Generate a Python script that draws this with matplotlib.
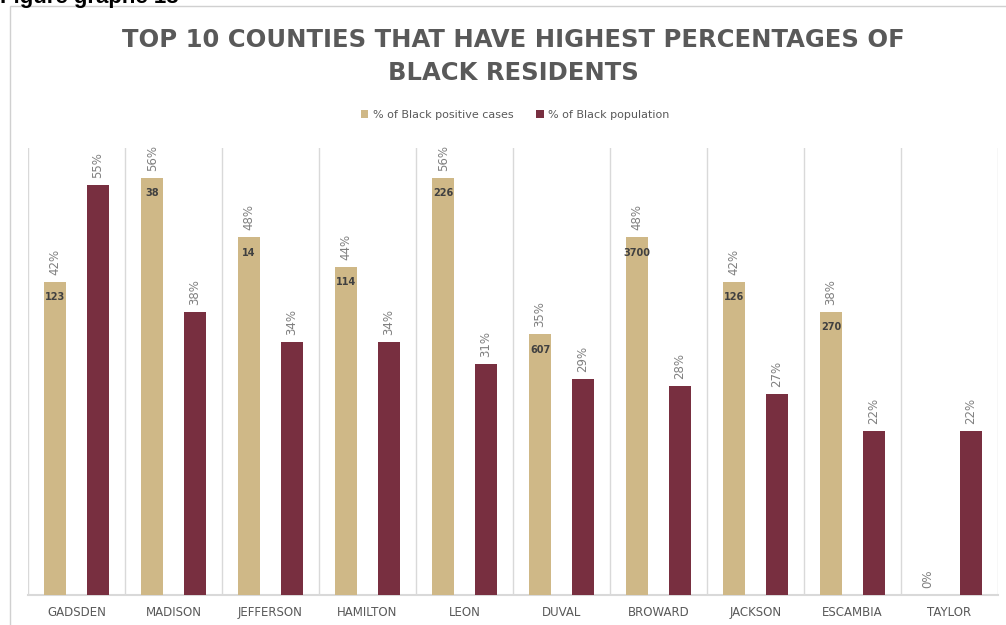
import numpy as np
import matplotlib
matplotlib.use("Agg")
import matplotlib.pyplot as plt
from matplotlib.patches import Rectangle

counties = ["GADSDEN", "MADISON", "JEFFERSON", "HAMILTON", "LEON",
            "DUVAL", "BROWARD", "JACKSON", "ESCAMBIA", "TAYLOR"]
pct_cases = [42, 56, 48, 44, 56, 35, 48, 42, 38, 0]
pct_population = [55, 38, 34, 34, 31, 29, 28, 27, 22, 22]
case_counts = ["123", "38", "14", "114", "226", "607", "3700", "126", "270", ""]

TAN = "#cfb887"
GARNET = "#782f40"
GRID = "#d9d9d9"

fig = plt.figure(figsize=(10.06, 6.25), dpi=100)

# outer chart frame and the cut-off caption above it
fig.patches.append(Rectangle((10 / 1006, -0.1), 1.2, (625 - 6) / 625 + 0.1,
                             transform=fig.transFigure, fill=False,
                             edgecolor="#d0d0d0", linewidth=1.0))
fig.text(0.0, 1 - 3 / 625, "Figure graphe 13", fontsize=16, fontweight="bold",
         family="Liberation Sans", color="black", ha="left", va="baseline")

ax = fig.add_axes([28 / 1006, 30 / 625, 970 / 1006, 447 / 625])
x = np.arange(len(counties))
off = 0.22
w = 0.23

b1 = ax.bar(x - off, pct_cases, w, color=TAN, label="% of Black positive cases", zorder=3)
b2 = ax.bar(x + off, pct_population, w, color=GARNET, label="% of Black population", zorder=3)

for xi, v in zip(x, pct_cases):
    ax.annotate(f"{v}%", (xi - off, v), xytext=(0, 5), textcoords="offset points",
                rotation=90, ha="center", va="bottom", fontsize=8.5, color="#7f7f7f")
for xi, v in zip(x, pct_population):
    ax.annotate(f"{v}%", (xi + off, v), xytext=(0, 5), textcoords="offset points",
                rotation=90, ha="center", va="bottom", fontsize=8.5, color="#7f7f7f")
for xi, v, c in zip(x, pct_cases, case_counts):
    if c:
        ax.annotate(c, (xi - off, v), xytext=(0, -11), textcoords="offset points",
                    ha="center", va="center", fontsize=7, fontweight="bold", color="#404040")

ax.set_xlim(-0.5, len(counties) - 0.5)
ax.set_ylim(0, 60)
ax.set_yticks([])
ax.set_xticks(x)
ax.set_xticklabels(counties, fontsize=8.5, color="#595959")
ax.tick_params(axis="x", length=0, pad=8)

# separators between counties
ax.set_xticks(np.arange(-0.5, len(counties)), minor=True)
ax.tick_params(axis="x", which="minor", length=0)
ax.grid(axis="x", which="minor", color=GRID, linewidth=1.0, zorder=0)
ax.grid(axis="x", which="major", visible=False)
for s in ["top", "left", "right"]:
    ax.spines[s].set_visible(False)
ax.spines["bottom"].set_color(GRID)
ax.spines["bottom"].set_linewidth(1.5)

fig.text(513 / 1006, 1 - 40 / 625,
         "TOP 10 COUNTIES THAT HAVE HIGHEST PERCENTAGES OF",
         fontsize=17.5, fontweight="bold", color="#595959", ha="center", va="center")
fig.text(513 / 1006, 1 - 73 / 625, "BLACK RESIDENTS",
         fontsize=17.5, fontweight="bold", color="#595959", ha="center", va="center")

fig.legend(handles=[b1, b2], loc="center", bbox_to_anchor=(515 / 1006, 1 - 115 / 625),
           ncol=2, frameon=False, fontsize=8, labelcolor="#595959",
           handlelength=0.7, handleheight=0.7, handletextpad=0.4, columnspacing=2.0)

fig.savefig("out.png", dpi=100)
